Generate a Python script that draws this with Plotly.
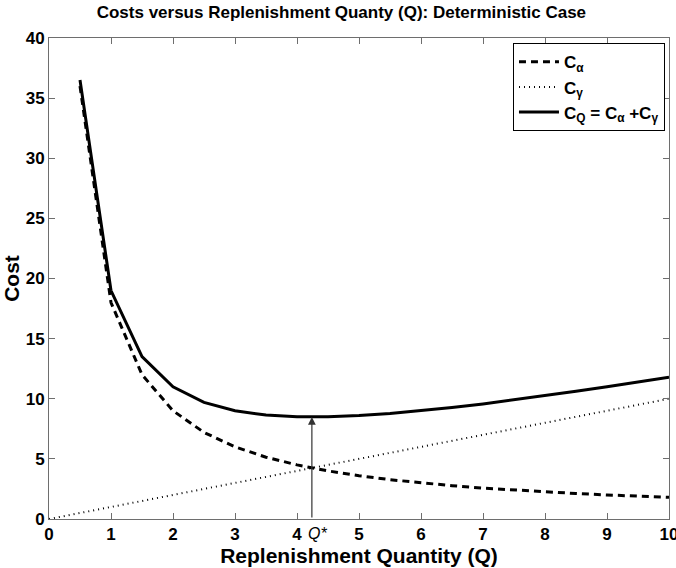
import plotly.graph_objects as go

# Replenishment quantities and the cost components
q_vals = [0.5, 1.0, 1.5, 2.0, 2.5, 3.0, 3.5, 4.0, 4.5, 5.0,
          5.5, 6.0, 6.5, 7.0, 7.5, 8.0, 8.5, 9.0, 9.5, 10.0]
c_alpha = [36.0, 18.0, 12.0, 9.0, 7.2, 6.0, 5.14, 4.5, 4.0, 3.6,
           3.27, 3.0, 2.77, 2.57, 2.4, 2.25, 2.12, 2.0, 1.89, 1.8]
c_total = [36.5, 19.0, 13.5, 11.0, 9.7, 9.0, 8.64, 8.5, 8.5, 8.6,
           8.77, 9.0, 9.27, 9.57, 9.9, 10.25, 10.62, 11.0, 11.39, 11.8]
q_line = [0.0, 10.0]
c_gamma = [0.0, 10.0]
q_star = 4.24
c_star = 8.49

FONT = "Liberation Sans, Arial, Helvetica, sans-serif"
GRAY = "#6e6e6e"

fig = go.Figure()
fig.add_trace(go.Scatter(x=q_vals, y=c_alpha, mode="lines",
                         name="C<sub>α</sub>",
                         line=dict(color="black", width=3, dash="7px,5px")))
fig.add_trace(go.Scatter(x=q_line, y=c_gamma, mode="lines",
                         name="C<sub>γ</sub>",
                         line=dict(color="black", width=2, dash="1px,4px")))
fig.add_trace(go.Scatter(x=q_vals, y=c_total, mode="lines",
                         name="C<sub>Q</sub> = C<sub>α</sub> +C<sub>γ</sub>",
                         line=dict(color="black", width=3)))

# Arrow marking the optimal quantity
fig.add_annotation(x=q_star, y=c_star, ax=q_star, ay=0,
                   xref="x", yref="y", axref="x", ayref="y",
                   showarrow=True, arrowhead=2, arrowsize=1.3,
                   arrowwidth=1.2, arrowcolor="#333333", text="")
fig.add_annotation(x=q_star, y=0, xref="x", yref="y",
                   text="<i>Q*</i>", showarrow=False,
                   xanchor="left", yanchor="top", xshift=-6, yshift=-4,
                   font=dict(family=FONT, size=16, color="black"))

axis_common = dict(showline=True, mirror="ticks", linecolor=GRAY, linewidth=1,
                   ticks="inside", tickcolor=GRAY, ticklen=6, showgrid=False,
                   zeroline=False, ticklabeloverflow="allow", automargin=False,
                   tickfont=dict(family=FONT, size=17, color="black", weight="bold"))

fig.update_layout(
    width=676, height=568,
    margin=dict(l=49, r=7, t=38, b=49),
    paper_bgcolor="white", plot_bgcolor="white",
    title=dict(text="<b>Costs versus Replenishment Quanty (Q): Deterministic Case</b>",
               x=0.505, xanchor="center", y=0.979, yanchor="middle",
               font=dict(family=FONT, size=17, color="black")),
    xaxis=dict(range=[0, 10], dtick=1,
               title=dict(text="<b>Replenishment Quantity (Q)</b>", standoff=1,
                          font=dict(family=FONT, size=21, color="black")),
               **axis_common),
    yaxis=dict(range=[0, 40], dtick=5,
               title=dict(text="<b>Cost</b>", standoff=4,
                          font=dict(family=FONT, size=21, color="black")),
               **axis_common),
    legend=dict(x=0.9935, y=0.989, xanchor="right", yanchor="top",
                bgcolor="white", bordercolor="black", borderwidth=1,
                font=dict(family=FONT, size=17, color="black", weight="bold"),
                tracegroupgap=0, itemwidth=40),
    showlegend=True,
)

fig.write_html("out.html")
